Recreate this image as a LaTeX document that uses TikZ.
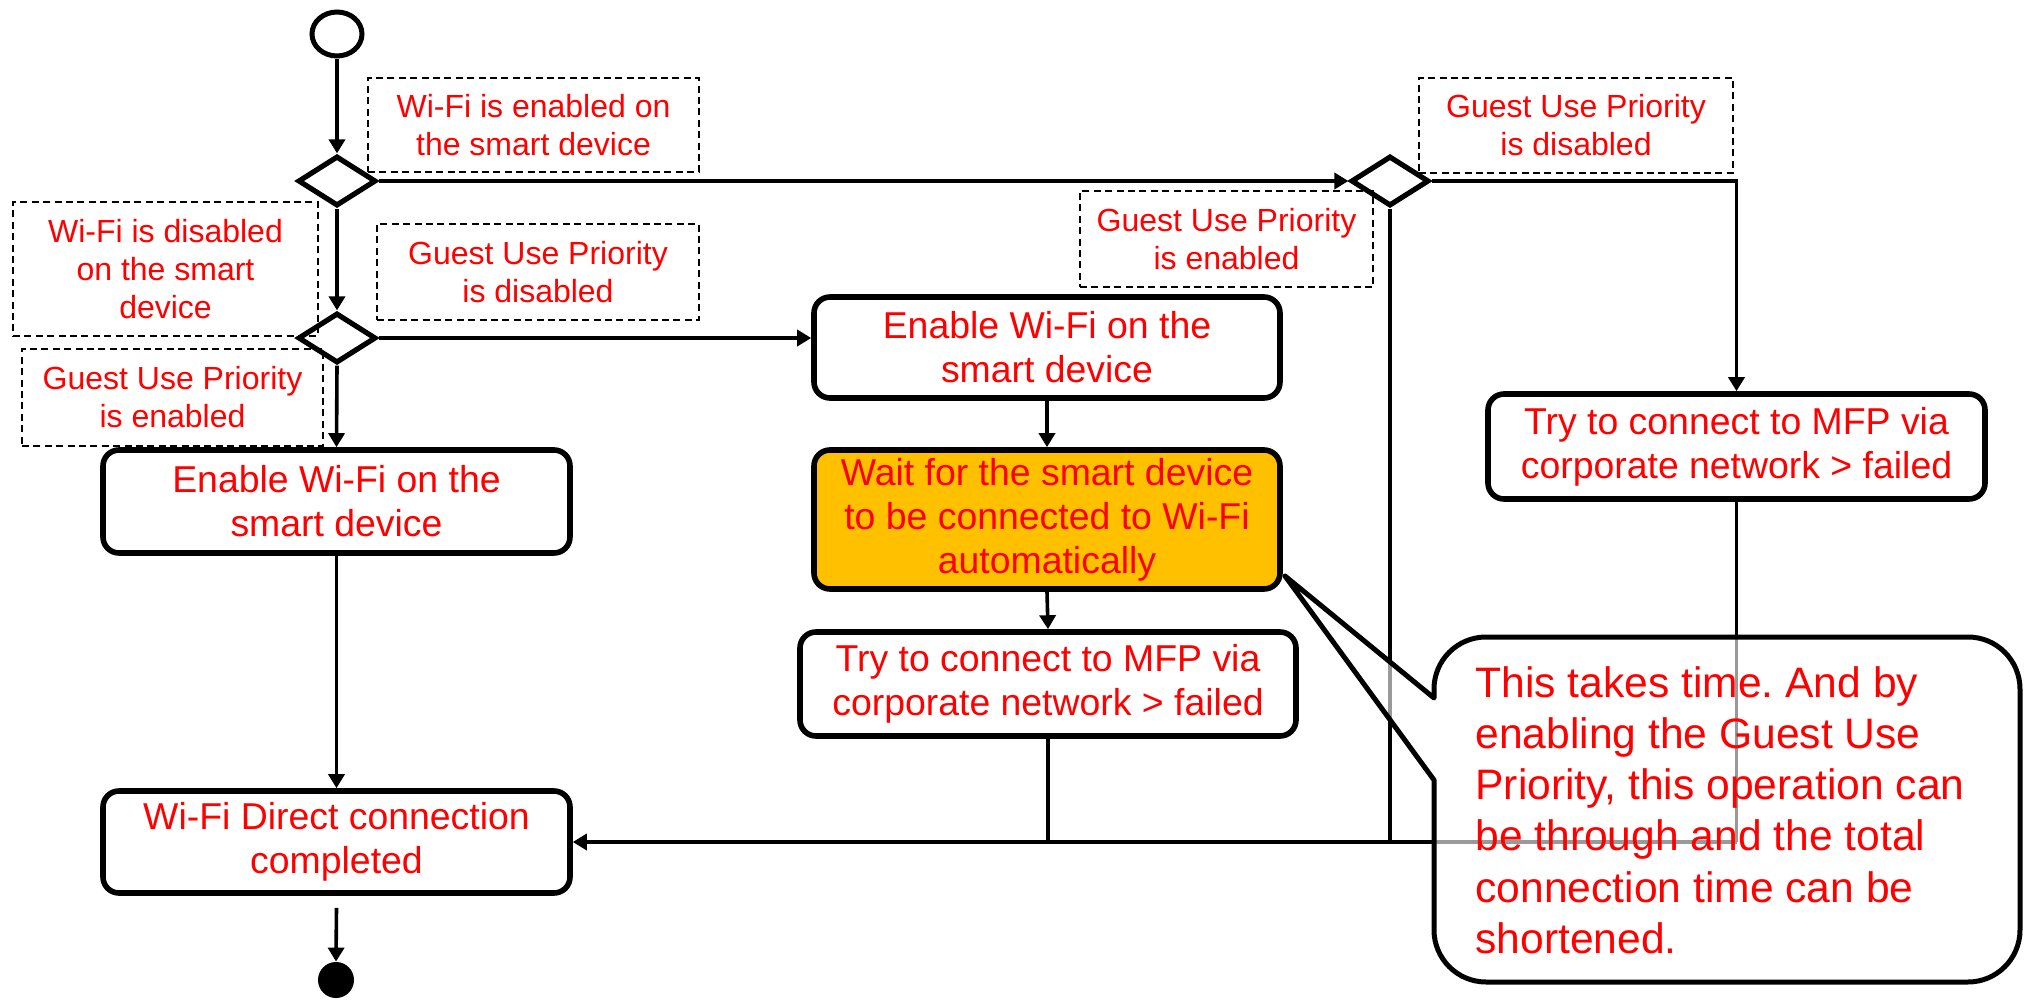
\documentclass[tikz,border=0pt]{standalone}
\usepackage{fontspec}
\setmainfont{Liberation Sans}
\usetikzlibrary{shapes.geometric,arrows.meta}
\definecolor{txtred}{RGB}{255,0,0}
\definecolor{waitfill}{RGB}{255,192,0}
\frenchspacing
\begin{document}
\begin{tikzpicture}[x=0.5pt,y=-0.5pt,
  conn/.style={line width=1.8pt},
  arr/.style={conn,-{Triangle[length=7pt,width=8pt]}},
  guard/.style={draw,dash pattern=on 3.5pt off 2.2pt,line width=0.8pt,text=txtred,align=center,inner sep=0pt,font=\fontsize{16}{19}\selectfont},
  actbox/.style={draw,line width=2.8pt,rounded corners=8pt,fill=white,text=txtred,align=center,inner sep=0pt,font=\fontsize{18.7}{22}\selectfont},
  decision/.style={diamond,draw,line width=2.6pt,minimum width=39pt,minimum height=25pt,inner sep=0pt},
  notetext/.style={text=txtred,align=left,inner sep=0pt,font=\fontsize{21.3}{25.6}\selectfont}
]
\useasboundingbox (0,0) rectangle (2026,1001);

% initial / final
\node[draw,ellipse,line width=2.5pt,minimum width=25pt,minimum height=22pt,inner sep=0pt] (start) at (337,34) {};
\node[circle,fill=black,minimum size=18pt,inner sep=0pt] (stop) at (336,980) {};

% decisions
\node[decision] (d1) at (337,181) {};
\node[decision] (d2) at (337,338) {};
\node[decision] (d3) at (1390,181) {};

% guard labels
\node[guard,minimum width=165.5pt,minimum height=47pt] (g1) at (533.5,125) {Wi-Fi is enabled on\\the smart device};
\node[guard,minimum width=152.5pt,minimum height=67pt] (g2) at (165.5,269) {Wi-Fi is disabled\\on the smart\\device};
\node[guard,minimum width=161pt,minimum height=48pt] (g3) at (538,272) {Guest Use Priority\\is disabled};
\node[guard,minimum width=150.5pt,minimum height=48.5pt] (g4) at (172.5,397.5) {Guest Use Priority\\is enabled};
\node[guard,minimum width=146.5pt,minimum height=48pt] (g5) at (1226.5,239) {Guest Use Priority\\is enabled};
\node[guard,minimum width=157pt,minimum height=47.5pt] (g6) at (1576,125.5) {Guest Use Priority\\is disabled};

% actions
\node[actbox,minimum width=233.5pt,minimum height=51.5pt] (b1) at (336.5,501.5) {Enable Wi-Fi on the\\smart device};
\node[actbox,minimum width=233pt,minimum height=50.5pt] (b2) at (1047,347.5) {Enable Wi-Fi on the\\smart device};
\node[actbox,fill=waitfill,minimum width=233pt,minimum height=69.5pt] (b3) at (1047,519.5) {Wait for the smart device\\to be connected to Wi-Fi\\automatically};
\node[actbox,minimum width=248pt,minimum height=52pt] (b4) at (1048,684) {Try to connect to MFP via\\corporate network > failed};
\node[actbox,minimum width=248.5pt,minimum height=52.5pt] (b5) at (1736.5,446.5) {Try to connect to MFP via\\corporate network > failed};
\node[actbox,minimum width=233.5pt,minimum height=51pt] (b6) at (336.5,842) {Wi-Fi Direct connection\\completed};

% connectors
\draw[arr] (start.south) -- (d1.north);
\draw[arr] (d1.south) -- (d2.north);
\draw[arr] (d2.south) -- (b1.north);
\draw[arr] (b1.south) -- (b6.north);
\draw[arr] (d1.east) -- (d3.west);
\draw[arr] (d2.east) -- (d2.east -| b2.west);
\draw[arr] (b2.south) -- (b3.north);
\draw[arr] (b3.south) -- (b4.north);
\draw[arr] (d3.east) -| (b5.north);
\coordinate (j1) at (b5.south |- b6.east);
\coordinate (j2) at (d3.south |- b6.east);
\coordinate (j3) at (b4.south |- b6.east);
\draw[conn] (b5.south) -- (j1);
\draw[conn] (d3.south) -- (j2);
\draw[conn] (b4.south) -- (j3);
\draw[arr] (j1) -- (b6.east);
\draw[arr] ([yshift=-6pt]b6.south) -- (stop.north);

% callout
\draw[line width=2.5pt,line join=round,fill=white,fill opacity=0.6]
  (1434,698) -- (1285,576) -- (1434,780) -- (1434,930)
  .. controls (1434,958.7) and (1457.3,982) .. (1486,982) -- (1968,982)
  .. controls (1996.7,982) and (2020,958.7) .. (2020,930) -- (2020,689)
  .. controls (2020,660.3) and (1996.7,637) .. (1968,637) -- (1486,637)
  .. controls (1457.3,637) and (1434,660.3) .. (1434,689) -- cycle;
\node[notetext,anchor=west] (note) at (1475,810) {This takes time. And by\\enabling the Guest Use\\Priority, this operation can\\be through and the total\\connection time can be\\shortened.};
\end{tikzpicture}
\end{document}
